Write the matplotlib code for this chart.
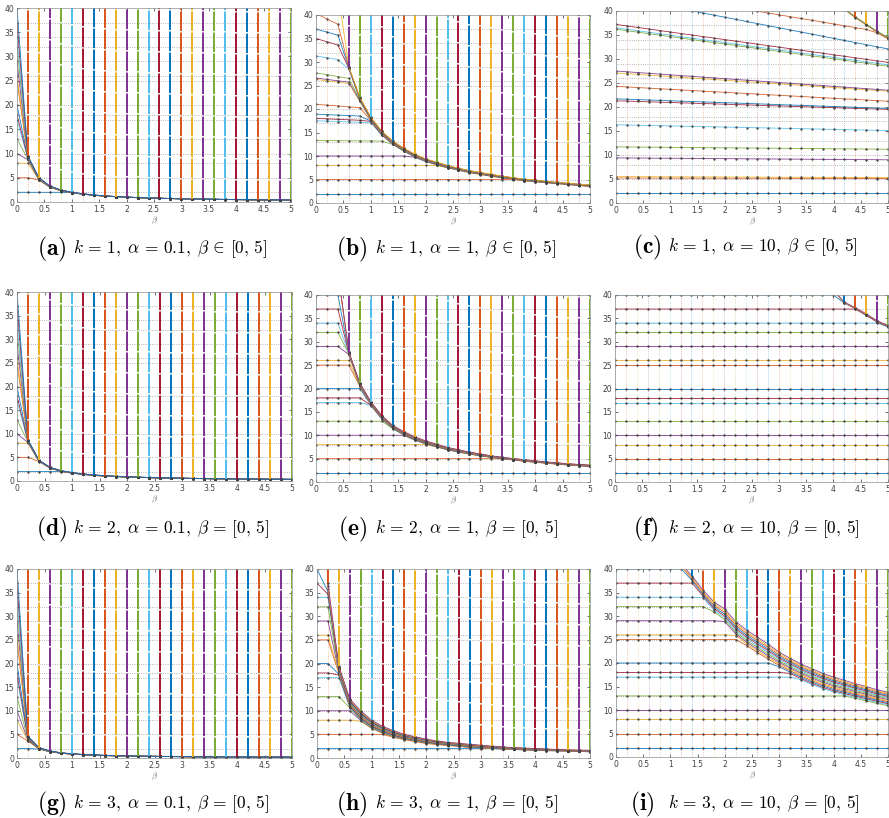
import numpy as np
import matplotlib
matplotlib.use("Agg")
import matplotlib.pyplot as plt

plt.rcParams['mathtext.fontset'] = 'cm'
plt.rcParams['font.family'] = ['DejaVu Sans']

W, H = 889, 818

# MATLAB default colour order
colors = ['#0072BD', '#D95319', '#EDB120', '#7E2F8E', '#77AC30', '#4DBEEE', '#A2142F']

beta = np.array([0, 0.2, 0.4, 0.6, 0.8, 1.0, 1.2, 1.4, 1.6, 1.8, 2.0, 2.2, 2.4,
                 2.6, 2.8, 3.0, 3.2, 3.4, 3.6, 3.8, 4.0, 4.2, 4.4, 4.6, 4.8, 5.0])

grid_y = [2, 5, 8, 10, 13, 17, 18, 20, 25, 26, 29, 32, 34, 37]
starts_std = [2, 5, 8, 10, 13, 17, 18, 20, 25, 26, 29, 32, 34, 37, 40]

# upper / lower edge of the merged bundle of curves at each beta (99 = off chart)
a_hi = [99, 9.5, 5.0, 3.3, 2.5, 2.0, 1.7, 1.45, 1.27, 1.13, 1.02, 0.93, 0.85, 0.78, 0.73, 0.68, 0.64, 0.6, 0.57, 0.54, 0.51, 0.49, 0.46, 0.44, 0.43, 0.41]
a_lo = [99, 8.5, 4.5, 3.0, 2.3, 1.9, 1.6, 1.38, 1.2, 1.08, 0.97, 0.88, 0.8, 0.75, 0.7, 0.65, 0.61, 0.57, 0.54, 0.51, 0.48, 0.46, 0.44, 0.42, 0.40, 0.39]
b_hi = [99, 60, 45, 29, 22.5, 18.3, 15.3, 13.2, 11.7, 10.4, 9.4, 8.7, 8.0, 7.4, 6.9, 6.5, 6.1, 5.7, 5.4, 5.1, 4.9, 4.6, 4.4, 4.2, 4.0, 3.85]
b_lo = [99, 55, 42, 27, 20.5, 16.8, 14.0, 12.2, 10.8, 9.6, 8.7, 8.0, 7.4, 6.9, 6.4, 6.0, 5.6, 5.3, 5.0, 4.7, 4.5, 4.3, 4.1, 3.9, 3.7, 3.5]
c_hi = [99, 99, 99, 99, 99, 99, 99, 99, 99, 99, 99, 99, 99, 99, 99, 99, 99, 99, 55, 47, 43.5, 40.5, 38.8, 37.3, 35.8, 34.5]
c_lo = [99, 99, 99, 99, 99, 99, 99, 99, 99, 99, 99, 99, 99, 99, 99, 99, 99, 99, 50, 44, 41, 38.5, 36.8, 35, 33.7, 32.5]
d_hi = [99, 8.7, 4.4, 2.9, 2.2, 1.8, 1.5, 1.28, 1.12, 1.0, 0.9, 0.82, 0.75, 0.69, 0.64, 0.6, 0.56, 0.53, 0.5, 0.47, 0.45, 0.43, 0.41, 0.39, 0.37, 0.36]
d_lo = [99, 8.0, 4.1, 2.7, 2.0, 1.65, 1.38, 1.18, 1.03, 0.92, 0.83, 0.76, 0.7, 0.64, 0.6, 0.56, 0.52, 0.49, 0.46, 0.44, 0.42, 0.4, 0.38, 0.36, 0.35, 0.33]
e_hi = [99, 99, 45, 27.8, 21.2, 17.2, 14.2, 12.1, 10.8, 9.7, 8.8, 8.1, 7.4, 6.9, 6.4, 6.0, 5.6, 5.3, 5.0, 4.8, 4.5, 4.3, 4.1, 3.9, 3.75, 3.6]
e_lo = [99, 99, 42, 26.5, 19.8, 16.0, 13.2, 11.2, 9.8, 8.8, 8.0, 7.4, 6.8, 6.3, 5.9, 5.5, 5.2, 4.9, 4.7, 4.4, 4.2, 4.0, 3.8, 3.6, 3.45, 3.3]
f_hi = [99, 99, 99, 99, 99, 99, 99, 99, 99, 99, 99, 99, 99, 99, 99, 99, 99, 99, 99, 99, 41, 38.5, 37.3, 36, 34.5, 33.5]
f_lo = [99, 99, 99, 99, 99, 99, 99, 99, 99, 99, 99, 99, 99, 99, 99, 99, 99, 99, 99, 99, 40, 37.2, 36, 34.5, 33.3, 32.3]
g_hi = [99, 4.6, 2.2, 1.5, 1.1, 0.9, 0.75, 0.65, 0.56, 0.5, 0.45, 0.41, 0.38, 0.35, 0.32, 0.3, 0.28, 0.27, 0.25, 0.24, 0.23, 0.22, 0.21, 0.2, 0.19, 0.18]
g_lo = [99, 3.5, 1.9, 1.3, 1.0, 0.8, 0.67, 0.58, 0.5, 0.45, 0.4, 0.37, 0.34, 0.31, 0.29, 0.27, 0.25, 0.24, 0.22, 0.21, 0.2, 0.19, 0.18, 0.17, 0.17, 0.16]
h_hi = [99, 37, 19.5, 12.5, 10.0, 8.0, 6.7, 5.8, 5.0, 4.5, 4.0, 3.6, 3.3, 3.1, 2.9, 2.7, 2.5, 2.35, 2.2, 2.1, 2.0, 1.9, 1.8, 1.7, 1.65, 1.6]
h_lo = [99, 27, 16.5, 10.0, 7.5, 6.0, 5.0, 4.3, 3.8, 3.4, 3.0, 2.8, 2.6, 2.4, 2.2, 2.1, 2.0, 1.9, 1.8, 1.7, 1.6, 1.55, 1.5, 1.45, 1.4, 1.3]
i_hi = [99, 99, 99, 99, 99, 99, 41, 38.5, 35.5, 33, 31.5, 28.8, 27, 25.5, 24, 22.3, 21, 19.8, 18.8, 17.8, 17.0, 16.3, 15.6, 15.0, 14.3, 13.8]
i_lo = [99, 99, 99, 99, 99, 99, 38, 33, 30, 27, 25, 22.5, 20.8, 19.3, 18, 17, 16, 15, 14, 13.2, 12.5, 12, 11.5, 11, 10.5, 10]

# starting values (beta = 0) and small linear drift per unit beta
b_start = [2, 5, 8, 10, 13.3, 17.5, 18, 18.9, 21, 26.3, 26.6, 27.7, 31.3, 35, 37, 40.3, 99]
b_slope = [0, 0, 0, 0, 0.1, 0.4, 0.5, 0.5, 0.9, 1.5, 1.5, 2, 2, 3.5, 3.2, 5.7, 0]
c_start = [2, 5.2, 5.5, 9.4, 11.7, 16.3, 21.3, 21.7, 24.3, 27.1, 27.5, 36.2, 36.5, 37.2, 43.1, 44.9, 99, 99, 99]
c_slope = [0, 0.02, 0.04, 0.08, 0.1, 0.24, 0.36, 0.4, 0.62, 0.76, 0.8, 1.54, 1.54, 1.58, 2.2, 1.9, 0, 0, 0]
hi_start = starts_std + [99, 99, 99]
flat = [0] * len(hi_start)

panels = [
    ('(a)', r'$k\,=\,1,\;\alpha\,=\,0.1,\;\beta\,\in\,[0,\,5]$', a_hi, a_lo, starts_std, flat),
    ('(b)', r'$k\,=\,1,\;\alpha\,=\,1,\;\beta\,\in\,[0,\,5]$', b_hi, b_lo, b_start, b_slope),
    ('(c)', r'$k\,=\,1,\;\alpha\,=\,10,\;\beta\,\in\,[0,\,5]$', c_hi, c_lo, c_start, c_slope),
    ('(d)', r'$k\,=\,2,\;\alpha\,=\,0.1,\;\beta\,=\,[0,\,5]$', d_hi, d_lo, starts_std, flat),
    ('(e)', r'$k\,=\,2,\;\alpha\,=\,1,\;\beta\,=\,[0,\,5]$', e_hi, e_lo, hi_start, flat),
    ('(f)', r'$k\,=\,2,\;\alpha\,=\,10,\;\beta\,=\,[0,\,5]$', f_hi, f_lo, hi_start, flat),
    ('(g)', r'$k\,=\,3,\;\alpha\,=\,0.1,\;\beta\,=\,[0,\,5]$', g_hi, g_lo, starts_std, flat),
    ('(h)', r'$k\,=\,3,\;\alpha\,=\,1,\;\beta\,=\,[0,\,5]$', h_hi, h_lo, hi_start, flat),
    ('(i)', r'$k\,=\,3,\;\alpha\,=\,10,\;\beta\,=\,[0,\,5]$', i_hi, i_lo, hi_start, flat),
]

# layout in pixels: left, top, right, bottom
axes_px = [(17, 8, 291, 202), (316, 15, 590, 203), (616, 11, 888, 203),
           (17, 292, 292, 481), (316, 295, 590, 482), (615, 295, 888, 482),
           (17, 569, 292, 758), (317, 569, 590, 758), (616, 569, 888, 757)]
cap_y = [249, 249, 247, 529, 529, 529, 804, 804, 804]
cap_bold_x = [67, 367, 662, 67, 367, 658, 67, 367, 655]
cap_math_x = [73, 375, 668, 73, 375, 668, 73, 375, 668]

fig = plt.figure(figsize=(W / 100, H / 100), dpi=100)

for p, (tag, label, hi, lo, starts, slopes) in enumerate(panels):
    l, t, r, b = axes_px[p]
    ax = fig.add_axes([l / W, 1 - b / H, (r - l) / W, (b - t) / H])
    hi = np.array(hi, dtype=float)
    lo = np.array(lo, dtype=float)

    # faint dotted columns at every beta
    for k, bb in enumerate(beta):
        ax.plot([bb, bb], [0, 40], ':', color=colors[k % 7], lw=0.6, alpha=0.45)
    for y in grid_y:
        ax.axhline(y, color='#a0a0a0', ls=':', lw=0.6)

    n = len(starts)
    for j, (s, sl) in enumerate(zip(starts, slopes)):
        frac = j / (n - 1)
        band = lo + (hi - lo) * frac
        ys = np.minimum(s - sl * beta, band)
        ax.plot(beta, ys, '-', color=colors[j % 7], lw=0.6, marker='.', ms=1.5,
                mec='#404040', alpha=0.9)

    # dense columns above the bundle
    for k, bb in enumerate(beta):
        if hi[k] < 40:
            ax.plot([bb, bb], [hi[k], 40], color=colors[k % 7], lw=1.4,
                    ls=(0, (10, 0.8)), solid_capstyle='butt')

    ax.set_xlim(0, 5)
    ax.set_ylim(0, 40)
    ax.set_xticks(np.arange(0, 5.01, 0.5))
    ax.set_xticklabels(['0', '0.5', '1', '1.5', '2', '2.5', '3', '3.5', '4', '4.5', '5'])
    ax.set_yticks(np.arange(0, 41, 5))
    ax.tick_params(direction='in', length=2, width=0.4, top=True, right=True,
                   labelsize=5.5, labelcolor='#404040', pad=2)
    for sp in ax.spines.values():
        sp.set_color('#909090')
        sp.set_linewidth(0.5)
    ax.set_xlabel(r'$\beta$', fontsize=6, color='#606060', labelpad=1)

    fig.text(cap_bold_x[p] / W, 1 - cap_y[p] / H, r'$\mathbf{' + tag + '}$',
             fontsize=17, ha='right', va='center')
    fig.text(cap_math_x[p] / W, 1 - cap_y[p] / H, label,
             fontsize=12.5, ha='left', va='center')

fig.savefig('out.png', dpi=100)
